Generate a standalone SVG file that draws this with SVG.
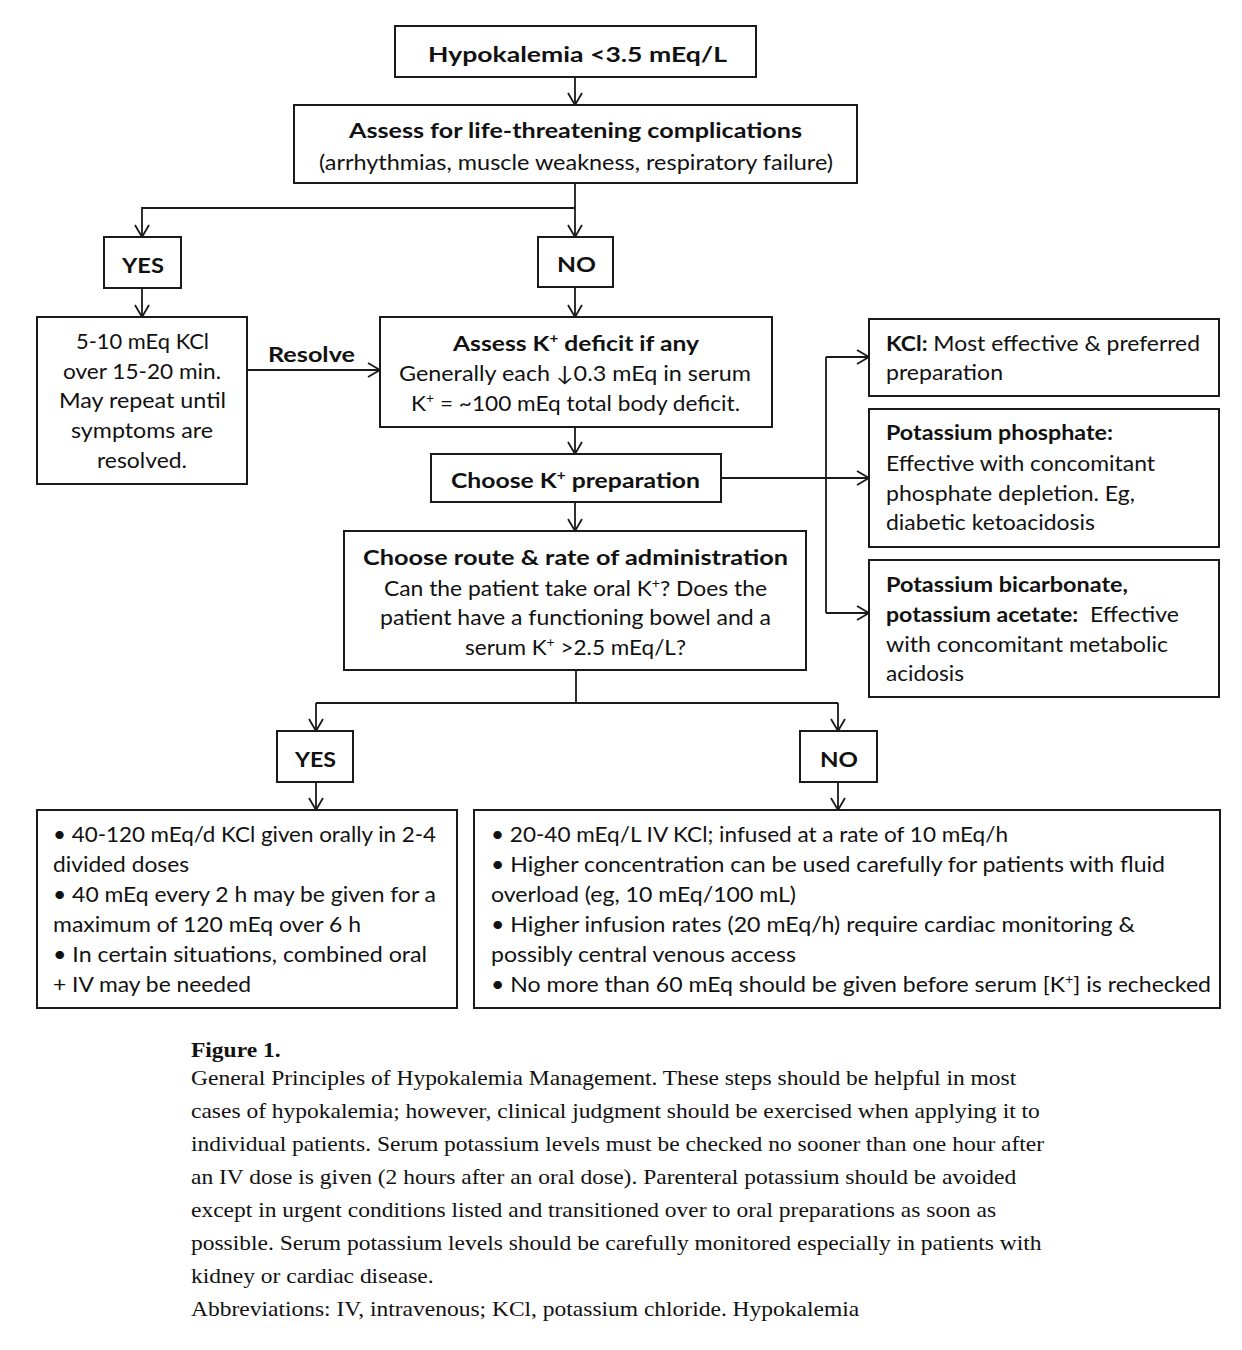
<svg xmlns="http://www.w3.org/2000/svg" width="1242" height="1350" viewBox="0 0 1242 1350">
<style>
.box{fill:#fff;stroke:#1a1a1a;stroke-width:2}
.ln{fill:none;stroke:#1a1a1a;stroke-width:1.8}
.t{font-family:Lato,'Liberation Sans','DejaVu Sans',sans-serif;fill:#111;font-size:21px}
.b{font-weight:bold}
.s{font-size:13px}
.cap{font-family:'Liberation Serif','Times New Roman',serif;font-size:22px;fill:#111}
</style>
<defs>
<marker id="ah" markerUnits="userSpaceOnUse" markerWidth="16" markerHeight="16" refX="12" refY="7" orient="auto" overflow="visible">
<path d="M0,0 L12,7 L0,14" fill="none" stroke="#1a1a1a" stroke-width="1.8"/>
</marker>
</defs>
<rect width="1242" height="1350" fill="#fff"/>

<g id="connectors">
<path class="ln" d="M575,77 V105" marker-end="url(#ah)"/>
<path class="ln" d="M575,183 V237" marker-end="url(#ah)"/>
<path class="ln" d="M575,208 H142 V237" marker-end="url(#ah)"/>
<path class="ln" d="M142,288 V317" marker-end="url(#ah)"/>
<path class="ln" d="M575,287 V317" marker-end="url(#ah)"/>
<path class="ln" d="M247,370 H380" marker-end="url(#ah)"/>
<path class="ln" d="M575,427 V454" marker-end="url(#ah)"/>
<path class="ln" d="M575,502 V531" marker-end="url(#ah)"/>
<path class="ln" d="M721,478 H869" marker-end="url(#ah)"/>
<path class="ln" d="M826,357 V613"/>
<path class="ln" d="M826,357 H869" marker-end="url(#ah)"/>
<path class="ln" d="M826,613 H869" marker-end="url(#ah)"/>
<path class="ln" d="M576,670 V703"/>
<path class="ln" d="M316,703 H838"/>
<path class="ln" d="M316,703 V731" marker-end="url(#ah)"/>
<path class="ln" d="M838,703 V731" marker-end="url(#ah)"/>
<path class="ln" d="M316,782 V810" marker-end="url(#ah)"/>
<path class="ln" d="M838,782 V810" marker-end="url(#ah)"/>
</g>

<g id="n-hypokalemia">
<rect class="box" x="395" y="26" width="361" height="51"/>
<text class="t b" x="428" y="62" font-size="25" textLength="299" lengthAdjust="spacingAndGlyphs">Hypokalemia &lt;3.5 mEq/L</text>
</g>

<g id="n-assess">
<rect class="box" x="294" y="105" width="563" height="78"/>
<text class="t b" x="349" y="138" font-size="22.5" textLength="453" lengthAdjust="spacingAndGlyphs">Assess for life-threatening complications</text>
<text class="t" x="319" y="170" textLength="514" lengthAdjust="spacingAndGlyphs">(arrhythmias, muscle weakness, respiratory failure)</text>
</g>

<g id="n-yes1">
<rect class="box" x="104" y="237" width="77" height="51"/>
<text class="t b" x="122" y="273" font-size="25" textLength="42" lengthAdjust="spacingAndGlyphs">YES</text>
</g>

<g id="n-no1">
<rect class="box" x="538" y="237" width="75" height="50"/>
<text class="t b" x="557" y="272" font-size="25" textLength="39" lengthAdjust="spacingAndGlyphs">NO</text>
</g>

<g id="n-kcl-bolus">
<rect class="box" x="37" y="317" width="210" height="167"/>
<text class="t" x="76" y="349" textLength="133" lengthAdjust="spacingAndGlyphs">5-10 mEq KCl</text>
<text class="t" x="63" y="379" textLength="158" lengthAdjust="spacingAndGlyphs">over 15-20 min.</text>
<text class="t" x="59" y="408" textLength="167" lengthAdjust="spacingAndGlyphs">May repeat until</text>
<text class="t" x="71" y="438" textLength="142" lengthAdjust="spacingAndGlyphs">symptoms are</text>
<text class="t" x="97" y="468" textLength="90" lengthAdjust="spacingAndGlyphs">resolved.</text>
</g>

<g id="l-resolve">
<text class="t b" x="268" y="362" font-size="22" textLength="87" lengthAdjust="spacingAndGlyphs">Resolve</text>
</g>

<g id="n-deficit">
<rect class="box" x="380" y="317" width="392" height="110"/>
<text class="t b" x="453" y="351" font-size="22" textLength="246" lengthAdjust="spacingAndGlyphs">Assess K<tspan class="s" dy="-8">+</tspan><tspan dy="8"> deficit if any</tspan></text>
<text class="t" x="399" y="381" textLength="352" lengthAdjust="spacingAndGlyphs">Generally each ↓0.3 mEq in serum</text>
<text class="t" x="411" y="411" textLength="329" lengthAdjust="spacingAndGlyphs">K<tspan class="s" dy="-8">+</tspan><tspan dy="8"> = ~100 mEq total body deficit.</tspan></text>
</g>

<g id="n-prep">
<rect class="box" x="431" y="454" width="290" height="48"/>
<text class="t b" x="451" y="488" font-size="22" textLength="249" lengthAdjust="spacingAndGlyphs">Choose K<tspan class="s" dy="-8">+</tspan><tspan dy="8"> preparation</tspan></text>
</g>

<g id="n-route">
<rect class="box" x="344" y="531" width="462" height="139"/>
<text class="t b" x="363" y="565" font-size="22" textLength="425" lengthAdjust="spacingAndGlyphs">Choose route &amp; rate of administration</text>
<text class="t" x="384" y="596" textLength="383" lengthAdjust="spacingAndGlyphs">Can the patient take oral K<tspan class="s" dy="-8">+</tspan><tspan dy="8">? Does the</tspan></text>
<text class="t" x="380" y="625" textLength="391" lengthAdjust="spacingAndGlyphs">patient have a functioning bowel and a</text>
<text class="t" x="465" y="655" textLength="221" lengthAdjust="spacingAndGlyphs">serum K<tspan class="s" dy="-8">+</tspan><tspan dy="8"> &gt;2.5 mEq/L?</tspan></text>
</g>

<g id="n-kcl">
<rect class="box" x="869" y="319" width="350" height="77"/>
<text class="t" x="886" y="351" textLength="314" lengthAdjust="spacingAndGlyphs"><tspan class="b">KCl:</tspan> Most effective &amp; preferred</text>
<text class="t" x="886" y="380" textLength="117" lengthAdjust="spacingAndGlyphs">preparation</text>
</g>

<g id="n-phosphate">
<rect class="box" x="869" y="409" width="350" height="138"/>
<text class="t b" x="886" y="440" textLength="227" lengthAdjust="spacingAndGlyphs">Potassium phosphate:</text>
<text class="t" x="886" y="471" textLength="269" lengthAdjust="spacingAndGlyphs">Effective with concomitant</text>
<text class="t" x="886" y="501" textLength="249" lengthAdjust="spacingAndGlyphs">phosphate depletion. Eg,</text>
<text class="t" x="886" y="530" textLength="209" lengthAdjust="spacingAndGlyphs">diabetic ketoacidosis</text>
</g>

<g id="n-bicarbonate">
<rect class="box" x="869" y="560" width="350" height="137"/>
<text class="t b" x="886" y="592" textLength="242" lengthAdjust="spacingAndGlyphs">Potassium bicarbonate,</text>
<text class="t" x="886" y="622" textLength="293" lengthAdjust="spacingAndGlyphs" xml:space="preserve"><tspan class="b">potassium acetate:</tspan>  Effective</text>
<text class="t" x="886" y="652" textLength="282" lengthAdjust="spacingAndGlyphs">with concomitant metabolic</text>
<text class="t" x="886" y="681" textLength="78" lengthAdjust="spacingAndGlyphs">acidosis</text>
</g>

<g id="n-yes2">
<rect class="box" x="277" y="731" width="76" height="51"/>
<text class="t b" x="295" y="767" font-size="25" textLength="41" lengthAdjust="spacingAndGlyphs">YES</text>
</g>

<g id="n-no2">
<rect class="box" x="800" y="731" width="77" height="51"/>
<text class="t b" x="820" y="767" font-size="25" textLength="38" lengthAdjust="spacingAndGlyphs">NO</text>
</g>

<g id="n-oral">
<rect class="box" x="37" y="810" width="420" height="198"/>
<text class="t" x="53" y="842" textLength="383" lengthAdjust="spacingAndGlyphs">• 40-120 mEq/d KCl given orally in 2-4</text>
<text class="t" x="53" y="872" textLength="136" lengthAdjust="spacingAndGlyphs">divided doses</text>
<text class="t" x="53" y="902" textLength="383" lengthAdjust="spacingAndGlyphs">• 40 mEq every 2 h may be given for a</text>
<text class="t" x="53" y="932" textLength="308" lengthAdjust="spacingAndGlyphs">maximum of 120 mEq over 6 h</text>
<text class="t" x="53" y="962" textLength="374" lengthAdjust="spacingAndGlyphs">• In certain situations, combined oral</text>
<text class="t" x="53" y="992" textLength="198" lengthAdjust="spacingAndGlyphs">+ IV may be needed</text>
</g>

<g id="n-iv">
<rect class="box" x="474" y="810" width="746" height="198"/>
<text class="t" x="491" y="842" textLength="517" lengthAdjust="spacingAndGlyphs">• 20-40 mEq/L IV KCl; infused at a rate of 10 mEq/h</text>
<text class="t" x="491" y="872" textLength="674" lengthAdjust="spacingAndGlyphs">• Higher concentration can be used carefully for patients with fluid</text>
<text class="t" x="491" y="902" textLength="305" lengthAdjust="spacingAndGlyphs">overload (eg, 10 mEq/100 mL)</text>
<text class="t" x="491" y="932" textLength="644" lengthAdjust="spacingAndGlyphs">• Higher infusion rates (20 mEq/h) require cardiac monitoring &amp;</text>
<text class="t" x="491" y="962" textLength="305" lengthAdjust="spacingAndGlyphs">possibly central venous access</text>
<text class="t" x="491" y="992" textLength="720" lengthAdjust="spacingAndGlyphs">• No more than 60 mEq should be given before serum [K<tspan class="s" dy="-8">+</tspan><tspan dy="8">] is rechecked</tspan></text>
</g>

<g id="caption" transform="translate(191 0) scale(1.068 1)">
<text class="cap" x="0" y="1057" font-weight="bold">Figure 1.</text>
<text class="cap" x="0" y="1085">General Principles of Hypokalemia Management. These steps should be helpful in most</text>
<text class="cap" x="0" y="1118">cases of hypokalemia; however, clinical judgment should be exercised when applying it to</text>
<text class="cap" x="0" y="1151">individual patients. Serum potassium levels must be checked no sooner than one hour after</text>
<text class="cap" x="0" y="1184">an IV dose is given (2 hours after an oral dose). Parenteral potassium should be avoided</text>
<text class="cap" x="0" y="1217">except in urgent conditions listed and transitioned over to oral preparations as soon as</text>
<text class="cap" x="0" y="1250">possible. Serum potassium levels should be carefully monitored especially in patients with</text>
<text class="cap" x="0" y="1283">kidney or cardiac disease.</text>
<text class="cap" x="0" y="1316">Abbreviations: IV, intravenous; KCl, potassium chloride. Hypokalemia</text>
</g>
</svg>
